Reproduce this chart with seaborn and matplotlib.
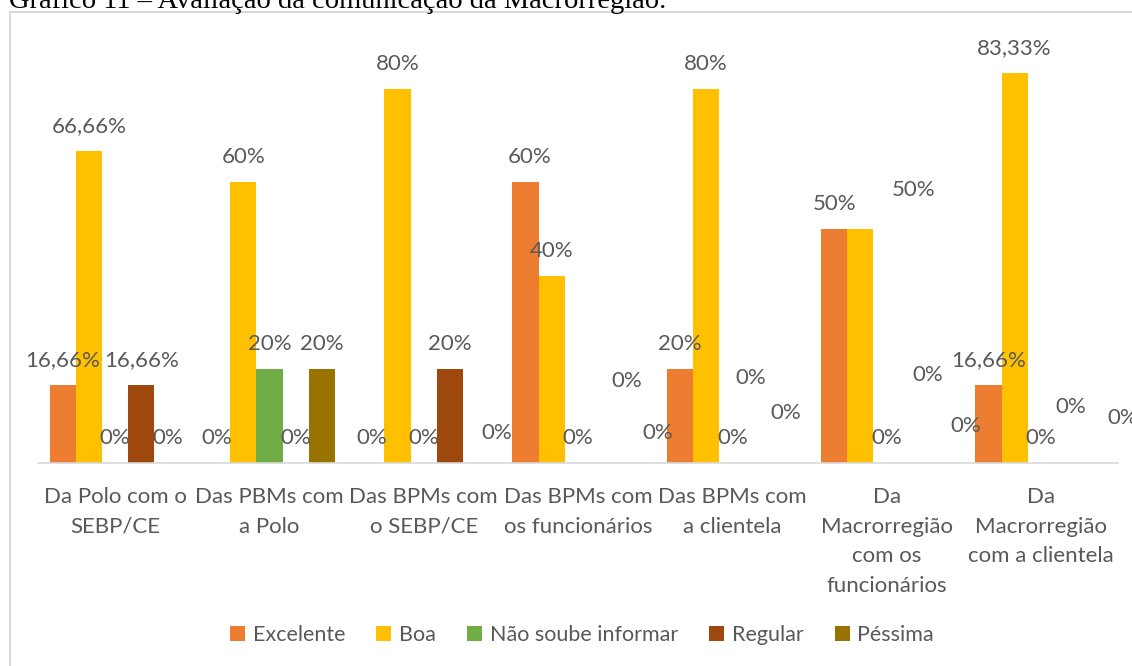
import matplotlib
matplotlib.use('Agg')
import matplotlib.pyplot as plt
import numpy as np
import pandas as pd
import seaborn as sns
from matplotlib.patches import Rectangle

sns.set_style('white')
plt.rcParams['font.family'] = ['Lato', 'DejaVu Sans']

categorias = ['Da Polo com o\nSEBP/CE', 'Das PBMs com\na Polo', 'Das BPMs com\no SEBP/CE',
              'Das BPMs com\nos funcionários', 'Das BPMs com\na clientela',
              'Da\nMacrorregião\ncom os\nfuncionários', 'Da\nMacrorregião\ncom a clientela']
series = ['Excelente', 'Boa', 'Não soube informar', 'Regular', 'Péssima']
excelente = [16.66, 0, 0, 60, 20, 50, 16.66]
boa = [66.66, 60, 80, 40, 80, 50, 83.33]
nao_soube = [0, 20, 0, 0, 0, 0, 0]
regular = [16.66, 0, 20, 0, 0, 0, 0]
pessima = [0, 20, 0, 0, 0, 0, 0]
cores = ['#ED7D31', '#FFC000', '#70AD47', '#9E480E', '#997300']

# rótulos que foram arrastados no gráfico original (dx, dy em pixels)
desloc = {(2, 'Péssima'): (21, 5), (3, 'Excelente'): (4, 0),
          (3, 'Regular'): (23, 57), (3, 'Péssima'): (27, 5),
          (4, 'Regular'): (-8, 60), (4, 'Péssima'): (1, 25),
          (5, 'Boa'): (53, 14), (5, 'Regular'): (15, 63), (5, 'Péssima'): (27, 12),
          (6, 'Regular'): (4, 31), (6, 'Péssima'): (29, 20)}

valores = [excelente, boa, nao_soube, regular, pessima]
df = pd.DataFrame({
    'categoria': categorias * len(series),
    'serie': [s for s in series for _ in categorias],
    'valor': [v for vals in valores for v in vals],
})

cinza = '#595959'
W, H = 1132, 666
fig = plt.figure(figsize=(W / 100, H / 100), dpi=100)
ax = fig.add_axes([38 / W, 1 - 463 / H, (1118 - 38) / W, (463 - 42) / H])

sns.barplot(data=df, x='categoria', y='valor', hue='serie', hue_order=series,
            palette=cores, saturation=1, width=0.85, linewidth=0, ax=ax, legend=True)

ax.set_ylim(0, 90)
ax.set_xlim(-0.5, len(categorias) - 0.5)
ax.set_xlabel('')
ax.set_ylabel('')
ax.set_yticks([])
for s in ['top', 'right', 'left']:
    ax.spines[s].set_visible(False)
ax.spines['bottom'].set_color('#D9D9D9')
ax.spines['bottom'].set_linewidth(1.2)
ax.tick_params(axis='x', length=0, pad=17)
ax.set_xticks(range(len(categorias)))
ax.set_xticklabels(categorias, fontsize=16, color=cinza, linespacing=1.62, va='top')


def fmt(v):
    if v == int(v):
        return f'{int(v)}%'
    return f'{v:.2f}'.replace('.', ',') + '%'


for serie, cont in zip(series, ax.containers):
    for i, bar in enumerate(cont):
        x = bar.get_x() + bar.get_width() / 2
        y = bar.get_height()
        dx, dy = desloc.get((i, serie), (0, 0))
        ax.annotate(fmt(y), (x, y), xytext=(dx, 25 + dy), textcoords='offset pixels',
                    ha='center', va='center', fontsize=16, color=cinza,
                    annotation_clip=False)

handles, labels = ax.get_legend_handles_labels()
ax.legend_.remove()
fig.legend(handles, labels, loc='center', bbox_to_anchor=(582 / W, 1 - 635 / H),
           ncol=5, frameon=False, fontsize=15.5, labelcolor=cinza,
           handlelength=0.7, handleheight=0.7, handletextpad=0.35, columnspacing=1.45)

fig.patches.append(Rectangle((10 / W, -0.1), 1.2, 1 - 12 / H + 0.1, transform=fig.transFigure,
                             fill=False, edgecolor='#D9D9D9', linewidth=1.5))
fig.text(9 / W, 1 - 8 / H, 'Gráfico 11 – Avaliação da comunicação da Macrorregião.',
         family='Liberation Serif', fontsize=20.5, va='baseline', ha='left', color='black')

fig.savefig('out.png', dpi=100)
